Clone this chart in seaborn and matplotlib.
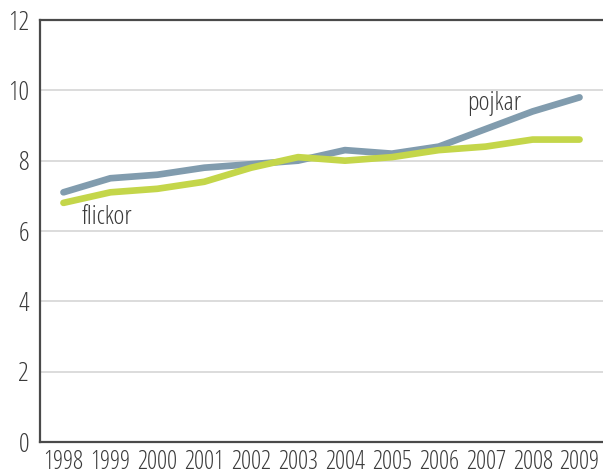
import numpy as np
import pandas as pd
import seaborn as sns
import matplotlib.pyplot as plt

# data
years = [1998, 1999, 2000, 2001, 2002, 2003, 2004, 2005, 2006, 2007, 2008, 2009]
pojkar = [7.1, 7.5, 7.6, 7.8, 7.9, 8.0, 8.3, 8.2, 8.4, 8.9, 9.4, 9.8]
flickor = [6.8, 7.1, 7.2, 7.4, 7.8, 8.1, 8.0, 8.1, 8.3, 8.4, 8.6, 8.6]
series_names = ["pojkar", "flickor"]
y_ticks = [0, 2, 4, 6, 8, 10, 12]

colors = {"pojkar": "#819cae", "flickor": "#c4d64a"}
text_color = "#3a3a3a"

sns.set_theme(style="white")
# condensed light face, close to the original's narrow type
plt.rcParams['font.family'] = ['Open Sans', 'DejaVu Sans']
plt.rcParams['font.stretch'] = 'condensed'
plt.rcParams['font.weight'] = 300

df = pd.DataFrame({"year": years * 2,
                   "value": pojkar + flickor,
                   "serie": ["pojkar"] * len(years) + ["flickor"] * len(years)})

fig = plt.figure(figsize=(6.03, 4.76), dpi=100)
ax = fig.add_axes([40 / 603, 34 / 476, 1 - 40 / 603, 422 / 476])

for y in y_ticks[1:-1]:
    ax.axhline(y, color="#dcdcdc", lw=1.4, zorder=0)

sns.lineplot(data=df, x="year", y="value", hue="serie", hue_order=series_names,
             palette=colors, lw=4.8, ax=ax, legend=False, solid_capstyle="round")

ax.set_xlim(years[0] - 0.5, years[-1] + 0.5)
ax.set_ylim(0, 12)
ax.set_yticks(y_ticks)
ax.set_xticks(years)
ax.set_xticklabels([str(y) for y in years])
ax.set_xticks([y + 0.5 for y in years[:-1]], minor=True)
ax.tick_params(axis="x", which="major", length=0, pad=6, labelsize=18, colors=text_color)
ax.tick_params(axis="x", which="minor", direction="in", length=9, width=1.2, color="#d8d8d8")
ax.tick_params(axis="y", length=0, pad=8, labelsize=19, colors=text_color)
ax.set_xlabel("")
ax.set_ylabel("")

for side in ["left", "bottom", "top"]:
    ax.spines[side].set_color("#4a4a4a")
    ax.spines[side].set_linewidth(1.6)
ax.spines["right"].set_visible(False)

ax.text(2007.19, 9.62, "pojkar", fontsize=19, color=text_color, ha="center", va="center")
ax.text(1998.94, 6.38, "flickor", fontsize=19, color=text_color, ha="center", va="center")

fig.savefig("out.png", dpi=100)
